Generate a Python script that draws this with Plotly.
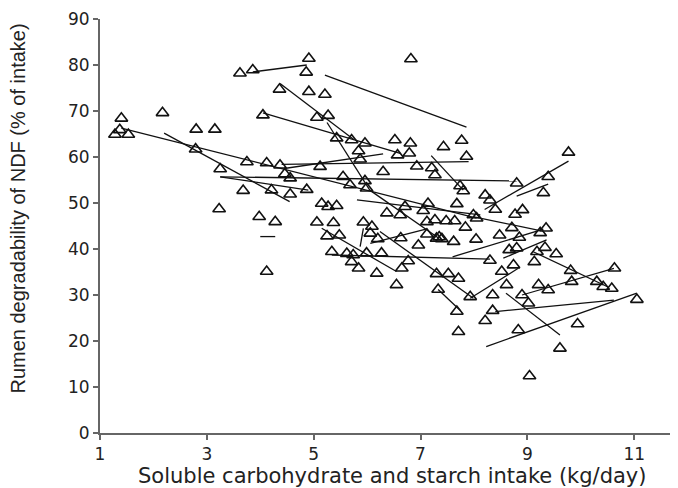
import plotly.graph_objects as go

# Observed points: soluble carbohydrate + starch intake (kg/day) vs NDF degradability (% of intake)
pt_x = [3.62, 3.86, 4.91, 4.86, 6.82, 4.36, 4.91, 5.21,
        1.40, 2.17, 4.05, 5.06, 5.27, 1.28, 1.37, 1.53, 2.80, 3.15,
        2.79, 5.43, 5.71, 5.96, 5.84, 5.87, 6.52, 6.81, 6.57, 6.79, 7.43, 7.77, 7.86,
        3.25, 3.75, 4.12, 4.37, 4.46, 4.56, 5.12, 6.30, 6.93, 7.21, 7.27, 5.55, 5.68, 5.96, 5.99, 7.74, 7.80,
        3.68, 4.21, 4.56, 4.87,
        9.77, 8.80, 9.39, 9.30, 8.21, 8.30, 8.40, 8.77, 8.91,
        3.23, 3.98, 4.28, 4.12,
        5.15, 5.27, 5.43, 6.37, 6.62, 6.71, 7.05, 7.14, 7.68, 7.99,
        5.06, 5.37, 5.93, 6.09, 6.06, 6.20,
        7.12, 7.27, 7.48, 7.64, 8.05, 7.84,
        5.25, 5.48, 6.63, 6.96, 7.12, 7.30, 7.35, 7.40, 7.62, 8.04,
        8.71, 9.24, 9.35, 8.48, 8.85, 8.66, 8.80, 9.18, 9.33, 9.54, 9.13, 8.30, 8.52, 8.74, 9.81, 10.63,
        5.34, 5.62, 5.74, 5.99, 6.27, 5.71, 5.84, 6.77, 6.65, 6.18, 6.55, 7.30, 7.52, 7.71, 7.33, 7.93, 7.68, 7.71,
        9.83, 10.30, 10.42, 10.58, 9.21, 9.39, 8.61, 8.90, 9.02, 8.35, 11.05, 8.35, 8.21, 8.83, 9.94, 9.61, 9.04]
pt_y = [78.2, 78.9, 81.4, 78.4, 81.3, 74.7, 74.2, 73.6,
        68.4, 69.6, 69.1, 68.6, 69.0, 64.9, 65.9, 64.9, 66.0, 66.0,
        61.7, 64.1, 63.7, 63.0, 61.3, 59.5, 63.7, 63.0, 60.4, 60.8, 62.2, 63.6, 60.1,
        57.4, 58.9, 58.7, 58.2, 56.3, 55.4, 57.9, 56.8, 58.0, 57.6, 56.1, 55.7, 53.9, 54.8, 53.2, 53.7, 52.6,
        52.7, 52.8, 51.9, 52.9,
        61.0, 54.3, 55.7, 52.2, 51.7, 50.6, 48.6, 47.5, 48.5,
        48.7, 47.0, 45.9, 35.1,
        49.9, 49.2, 49.4, 47.8, 47.4, 49.2, 48.3, 49.9, 49.8, 47.4,
        45.8, 45.7, 45.8, 44.9, 43.4, 42.2,
        45.9, 46.3, 46.1, 46.1, 46.7, 44.7,
        42.8, 43.0, 42.4, 40.8, 43.2, 42.3, 42.6, 42.2, 41.6, 42.1,
        44.6, 43.5, 44.5, 43.0, 42.5, 39.8, 40.2, 39.4, 40.3, 38.9, 37.2, 37.5, 35.1, 36.5, 35.3, 35.8,
        39.4, 39.0, 38.7, 39.1, 39.1, 37.2, 35.8, 37.4, 35.8, 34.7, 32.2, 34.6, 34.6, 33.6, 31.2, 29.6, 26.4, 22.0,
        32.9, 32.9, 31.8, 31.4, 32.2, 31.1, 32.2, 30.0, 28.2, 30.0, 29.0, 26.6, 24.4, 22.4, 23.7, 18.4, 12.4]

# Within-study regression lines (start x, start y, end x, end y)
seg_x0 = [3.86, 5.21, 4.37, 4.05, 5.25, 7.20, 4.40, 4.45, 3.25, 3.25, 2.20, 1.40,
          8.20, 8.80, 8.00, 7.60, 8.55, 9.11, 8.90, 8.40, 8.23, 8.60, 7.93,
          5.15, 6.06, 6.24, 5.34, 7.33, 5.81, 6.05, 4.00, 5.87]
seg_y0 = [78.5, 77.8, 76.0, 69.6, 67.5, 60.3, 58.4, 57.5, 55.7, 55.7, 65.2, 66.3,
          48.6, 51.5, 47.0, 38.3, 38.0, 39.4, 30.0, 26.4, 18.8, 30.4, 29.3,
          44.5, 41.2, 43.8, 38.7, 31.2, 50.7, 52.8, 42.7, 40.5]
seg_x1 = [4.87, 7.86, 5.75, 6.62, 6.05, 7.80, 7.90, 6.30, 8.80, 4.90, 4.55, 8.05,
          9.77, 9.39, 9.24, 9.30, 9.36, 10.50, 10.62, 10.62, 11.05, 9.61, 8.83,
          6.55, 7.12, 7.99, 8.30, 7.74, 8.12, 7.35, 4.28, 5.93]
seg_y1 = [80.0, 66.5, 63.8, 60.8, 52.8, 52.8, 59.0, 60.7, 54.8, 52.8, 50.3, 46.7,
          59.1, 54.1, 44.0, 44.3, 42.0, 31.8, 35.8, 28.9, 30.4, 21.3, 35.8,
          35.1, 44.4, 29.3, 37.8, 26.7, 47.4, 42.3, 42.7, 44.5]

x_ticks = [1, 3, 5, 7, 9, 11]
y_ticks = [0, 10, 20, 30, 40, 50, 60, 70, 80, 90]

lx, ly = [], []
for a, b, c, d in zip(seg_x0, seg_y0, seg_x1, seg_y1):
    lx += [a, c, None]
    ly += [b, d, None]

fig = go.Figure()
fig.add_trace(go.Scatter(x=lx, y=ly, mode="lines",
                         line=dict(color="#111111", width=1.3),
                         hoverinfo="skip", showlegend=False))
fig.add_trace(go.Scatter(x=pt_x, y=pt_y, mode="markers",
                         marker=dict(symbol="triangle-up-open", size=11,
                                     color="#111111", line=dict(width=1.6, color="#111111")),
                         showlegend=False))

tick_font = dict(family="DejaVu Sans, sans-serif", size=17, color="#222222")
fig.update_xaxes(range=[1, 11.82], tickmode="array", tickvals=x_ticks,
                 ticktext=[str(v) for v in x_ticks],
                 showline=True, linecolor="#666666", linewidth=2,
                 ticks="outside", ticklen=5, tickwidth=1.5, tickcolor="#666666",
                 showgrid=False, zeroline=False, tickfont=tick_font)
fig.update_yaxes(range=[0, 90], tickmode="array", tickvals=y_ticks,
                 ticktext=[str(v) for v in y_ticks],
                 showline=True, linecolor="#666666", linewidth=2,
                 ticks="outside", ticklen=5, tickwidth=1.5, tickcolor="#666666",
                 showgrid=False, zeroline=False, tickfont=tick_font)

fig.add_annotation(text="Soluble carbohydrate and starch intake (kg/day)",
                   xref="paper", yref="paper", x=0.505, y=-0.104,
                   xanchor="center", yanchor="middle", showarrow=False,
                   font=dict(family="DejaVu Sans, sans-serif", size=21, color="#222222"))
fig.add_annotation(text="Rumen degradability of NDF (% of intake)",
                   xref="paper", yref="paper", x=-0.142, y=0.542,
                   xanchor="center", yanchor="middle", showarrow=False, textangle=-90,
                   font=dict(family="Liberation Sans, Arial, sans-serif", size=20, color="#222222"))

# page body has an 8px default margin, so size/margins are offset accordingly
fig.update_layout(width=670, height=480,
                  margin=dict(l=92, r=0, t=11, b=55),
                  plot_bgcolor="white", paper_bgcolor="white")
fig.write_html("out.html")
